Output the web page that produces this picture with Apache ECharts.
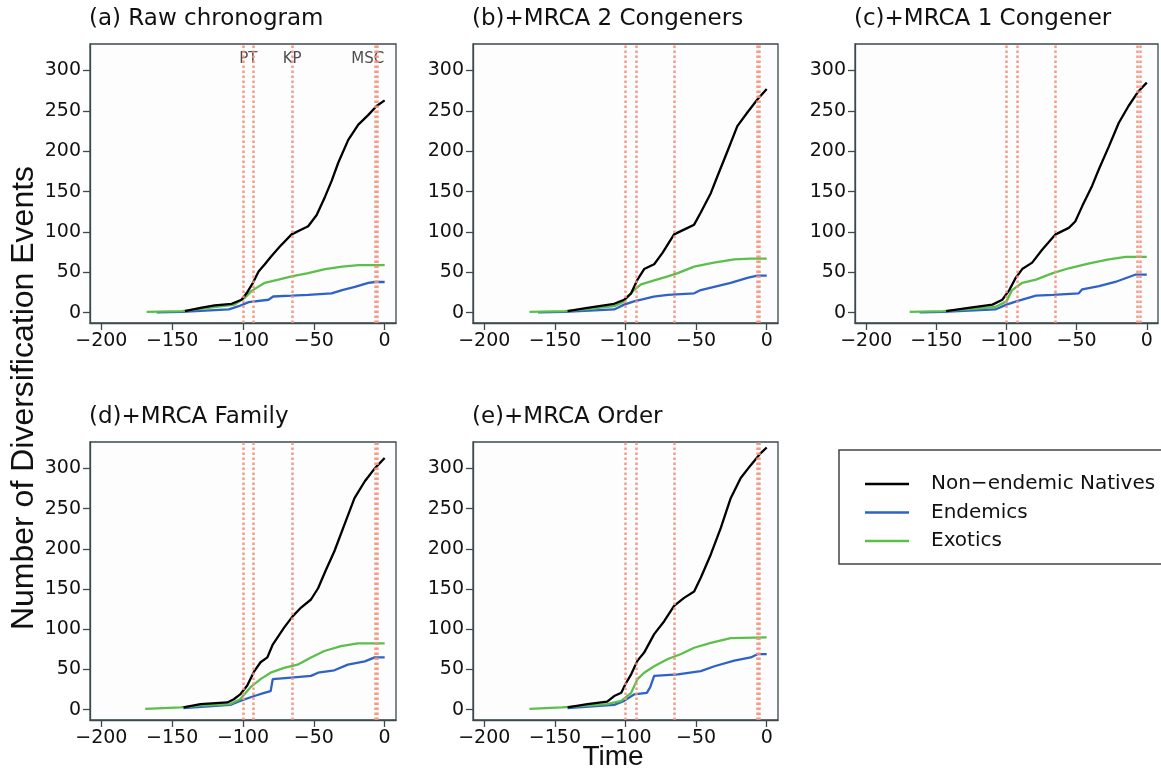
<!DOCTYPE html>
<html><head><meta charset="utf-8">
<script src="https://cdn.jsdelivr.net/npm/echarts@6/dist/echarts.min.js"></script>
<style>html,body{margin:0;padding:0;background:#fff}#c{width:1161px;height:771px}</style>
</head><body><div id="c"></div>
<script>
// ---- data ----
const panelTitles = ['(a) Raw chronogram', '(b)+MRCA 2 Congeners', '(c)+MRCA 1 Congener', '(d)+MRCA Family', '(e)+MRCA Order'];
const seriesNames = ['Non\u2212endemic Natives', 'Endemics', 'Exotics'];
const xTicks = [-200, -150, -100, -50, 0];
const yTicks = [0, 50, 100, 150, 200, 250, 300];
const eventTimes = [-100, -92.5, -65.5, -6.5, -5];
const eventLabelNames = ['PT', 'KP', 'MSC'];
const eventLabelTimes = [-96.3, -65.3, -11.9];
const eventLabelCount = 314;

const nativesA = [[-141,2],[-130,6],[-120,9],[-108,11],[-101,16],[-97.5,24],[-93,37],[-89,51],[-84.6,60],[-80,70],[-74,82],[-65.7,97],[-58.7,103],[-54,107],[-48,121],[-42,144],[-37.5,163],[-32.7,186],[-25.7,214],[-18.6,233],[-11.5,245],[-5.7,256],[0,263]];
const endemicsA = [[-161,0.5],[-143,1],[-110,4],[-103,8],[-96,13],[-82,16],[-78.7,20],[-65.7,21],[-54,22],[-37.5,24],[-30,28],[-21,32],[-11.5,37],[-6.8,38],[0,38]];
const exoticsA = [[-168,1],[-143,2],[-124.6,6],[-106,10],[-99,18],[-94,27],[-84.6,37],[-75,41],[-65.7,45],[-54,49],[-42,54],[-30,57],[-18.6,59],[0,59]];

const nativesB = [[-141,2],[-127,6],[-108,11],[-101,16],[-96,24],[-91.5,41],[-86.8,54],[-79.7,60],[-73.8,74],[-65.6,97],[-56,105],[-51.4,109],[-46.7,124],[-39.6,148],[-34.9,169],[-27.8,200],[-20.8,231],[-13.7,248],[-6.6,264],[0,277]];
const endemicsB = [[-162,0.5],[-143,1],[-108,4],[-101,10],[-94,14],[-80,20],[-70,22],[-51.4,24],[-46.7,28],[-35,33],[-25.5,37],[-13.7,43],[-6.6,46],[0,46]];
const exoticsB = [[-168,1],[-143,2],[-127,4.5],[-108,8],[-101,14],[-94,28],[-89,35],[-79.7,40],[-70,45],[-63,49],[-51.4,57],[-37.3,62],[-23,66],[-11.3,67],[0,67]];

const nativesC = [[-143,2],[-127,6],[-110,10],[-103,16],[-98,28],[-93.5,43],[-88.8,54],[-81.7,62],[-74.6,78],[-65,97],[-55.6,105],[-51,113],[-46,132],[-39,157],[-34.3,177],[-27,206],[-20,235],[-13,256],[-6,274],[0,285]];
const endemicsC = [[-162,0.5],[-145,1],[-108,4],[-100,10],[-93,14],[-79,21],[-67,22],[-48.5,24],[-46,29],[-34,33],[-22.5,38],[-8.3,47],[0,47]];
const exoticsC = [[-169,1],[-145,2],[-108,7],[-100,14],[-96,28],[-88.8,37],[-79,41],[-67,49],[-55.6,55],[-41,61],[-27,66],[-15,69],[0,69]];

const nativesD = [[-142,3],[-130,7],[-111,9],[-106.5,13],[-102,19],[-97,30],[-92,48],[-87.6,59],[-82.8,65],[-79,81],[-71,102],[-65,116],[-59,127],[-52,137],[-47,151],[-41.4,174],[-35.5,197],[-28.4,230],[-21.3,263],[-14,284],[-7,300],[0,313]];
const endemicsD = [[-142,2],[-109,6],[-102,11],[-92,17],[-85,21],[-80.5,23],[-79,38],[-66,40],[-52,42],[-47,46],[-35.5,49],[-26,56],[-14,60],[-7,65],[0,65]];
const exoticsD = [[-169,1],[-144,3],[-130,5],[-109,7],[-102,13],[-94.7,28],[-87.6,38],[-80.5,46],[-71,52],[-61.5,56],[-52,65],[-42.6,73],[-30.8,79],[-19,82.5],[0,82.5]];

const nativesE = [[-141,3],[-127,7],[-113,10],[-108,17],[-103,21],[-100,32],[-96,44],[-91.5,61],[-86.8,71],[-79.7,94],[-72.6,110],[-65.6,129],[-58.5,139],[-51.4,147],[-46.7,164],[-39.6,193],[-32.5,226],[-25.5,263],[-18.4,288],[-11.3,304],[-4.2,319],[0,326]];
const endemicsE = [[-141,2],[-108,6],[-101,11],[-94,19],[-84.9,21],[-82.5,28],[-79.7,42],[-63,44],[-46.7,48],[-37,54],[-23,61],[-11.3,65],[-6.6,69],[0,69]];
const exoticsE = [[-168,1],[-145,3],[-113,7],[-103,11],[-96,21],[-91.5,38],[-86.8,46],[-79.7,54],[-70,63],[-61,69],[-51.4,77],[-39.6,83],[-25.5,89],[0,90]];

const panelData = [
  [nativesA, endemicsA, exoticsA],
  [nativesB, endemicsB, exoticsB],
  [nativesC, endemicsC, exoticsC],
  [nativesD, endemicsD, exoticsD],
  [nativesE, endemicsE, exoticsE]
];

// ---- layout / style ----
const grids = [
  {left: 90, top: 44, width: 306, height: 279},
  {left: 473, top: 44, width: 305, height: 279},
  {left: 855, top: 44, width: 303, height: 279},
  {left: 90, top: 442, width: 306, height: 278},
  {left: 473, top: 442, width: 305, height: 278}
];
const lineColors = ['#000000', '#2f62c8', '#5cbf4a'];
const boxColor = '#3a4a4d';
const textColor = '#111111';
const eventColor = '#f4907c';
const fmt = v => v < 0 ? '\u2212' + Math.abs(v) : String(v);

const option = {
  backgroundColor: '#ffffff',
  animation: false,
  title: panelTitles.map((t, i) => ({
    text: t, left: grids[i].left - 1, top: i < 3 ? 8 : 406, padding: 0,
    textStyle: {fontFamily: 'DejaVu Sans', fontSize: 23, fontWeight: 'normal', color: textColor}
  })),
  grid: grids.map(g => Object.assign({show: true, borderColor: boxColor, borderWidth: 1.3, backgroundColor: '#fdfdfe'}, g)),
  xAxis: grids.map((g, i) => ({
    type: 'value', gridIndex: i, min: -208, max: 8,
    axisLine: {show: true, onZero: false, lineStyle: {color: boxColor, width: 1.3}},
    axisTick: {show: true, inside: false, length: 7, customValues: xTicks, lineStyle: {color: boxColor, width: 1.3}},
    axisLabel: {customValues: xTicks, formatter: fmt, fontFamily: 'DejaVu Sans', fontSize: 19, color: textColor, margin: 9},
    splitLine: {show: false}
  })),
  yAxis: grids.map((g, i) => ({
    type: 'value', gridIndex: i, min: -12.8, max: 332.8,
    axisLine: {show: true, onZero: false, lineStyle: {color: boxColor, width: 1.3}},
    axisTick: {show: true, inside: false, length: 7, customValues: yTicks, lineStyle: {color: boxColor, width: 1.3}},
    axisLabel: {customValues: yTicks, formatter: fmt, fontFamily: 'DejaVu Sans', fontSize: 19, color: textColor, margin: 9},
    splitLine: {show: false}
  })),
  legend: {
    data: seriesNames, orient: 'vertical', left: 860, top: 469,
    icon: 'rect', itemWidth: 44, itemHeight: 2.5, itemGap: 8.5, selectedMode: false,
    textStyle: {fontFamily: 'DejaVu Sans', fontSize: 20, color: textColor, lineHeight: 20, padding: [0, 0, 0, 17]}
  },
  graphic: [
    {type: 'rect', shape: {x: 839, y: 450, width: 340, height: 114}, style: {fill: 'none', stroke: '#444', lineWidth: 1.5}, z: 0},
    {type: 'text', x: 24, y: 398, rotation: Math.PI / 2,
     style: {text: 'Number of Diversification Events', font: '32px "Liberation Sans"', fill: textColor, align: 'center', verticalAlign: 'middle'}},
    {type: 'text', x: 613, y: 757,
     style: {text: 'Time', font: '28px "Liberation Sans"', fill: textColor, align: 'center', verticalAlign: 'middle'}}
  ],
  series: []
};

panelData.forEach((sets, i) => {
  option.series.push({
    type: 'line', name: 'events' + i, xAxisIndex: i, yAxisIndex: i, data: [], z: 1, silent: true,
    markLine: {
      silent: true, symbol: 'none', label: {show: false}, animation: false,
      lineStyle: {color: eventColor, type: [2.5, 2.5], width: 2.5, opacity: 0.9},
      data: eventTimes.map(t => ({xAxis: t}))
    }
  });
  [1, 2, 0].forEach(k => {
    option.series.push({
      type: 'line', name: seriesNames[k], xAxisIndex: i, yAxisIndex: i, data: sets[k],
      symbol: 'none', showSymbol: false, z: 3,
      lineStyle: {color: lineColors[k], width: 2.3},
      itemStyle: {color: lineColors[k]}
    });
  });
});

option.series.push({
  type: 'scatter', name: 'eventLabels', xAxisIndex: 0, yAxisIndex: 0, symbolSize: 0, silent: true, z: 4,
  data: eventLabelTimes.map((t, k) => ({value: [t, eventLabelCount], name: eventLabelNames[k]})),
  label: {show: true, position: 'inside', formatter: '{b}', fontFamily: 'DejaVu Sans', fontSize: 15, color: '#222'}
});

const chart = echarts.init(document.getElementById('c'), null, {renderer: 'canvas'});
chart.setOption(option);
</script></body></html>
